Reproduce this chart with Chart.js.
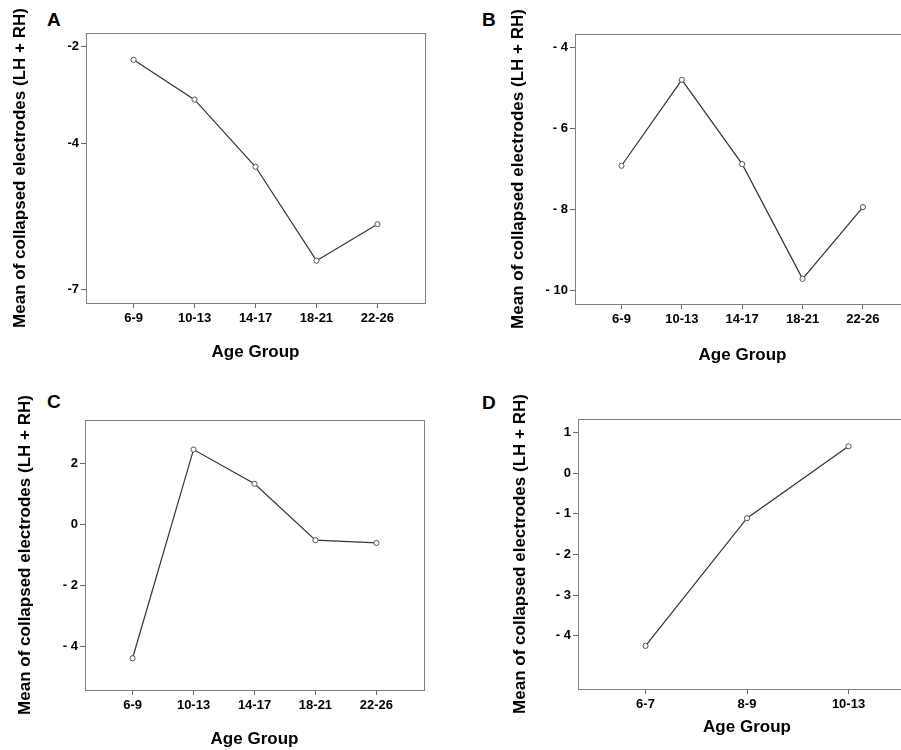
<!DOCTYPE html>
<html>
<head>
<meta charset="utf-8">
<script src="https://cdn.jsdelivr.net/npm/chart.js@4/dist/chart.umd.min.js"></script>
<style>
body{margin:0;width:901px;height:750px;overflow:hidden;background:#fff;position:relative;font-family:"Liberation Sans",Arial,sans-serif;}
canvas{position:absolute;}
.tag{position:absolute;font:bold 19px "Liberation Sans",Arial,sans-serif;line-height:1;color:#000;}
</style>
</head>
<body>
<div class="tag" style="left:47px;top:10px">A</div>
<div class="tag" style="left:482px;top:10px">B</div>
<div class="tag" style="left:47px;top:392px">C</div>
<div class="tag" style="left:482px;top:393px">D</div>
<canvas id="chartA" width="450" height="370" style="left:0;top:0"></canvas>
<canvas id="chartB" width="475" height="370" style="left:450px;top:0"></canvas>
<canvas id="chartC" width="450" height="380" style="left:0;top:370px"></canvas>
<canvas id="chartD" width="475" height="380" style="left:450px;top:370px"></canvas>
<script>
/* data */
const groupsABC = ["6-9", "10-13", "14-17", "18-21", "22-26"];
const groupsD = ["6-7", "8-9", "10-13"];

const meansA = [-2.27, -3.09, -4.47, -6.40, -5.65];
const meansB = [-6.92, -4.80, -6.88, -9.71, -7.94];
const meansC = [-4.39, 2.45, 1.33, -0.52, -0.61];
const meansD = [-4.25, -1.11, 0.66];

const yTicksA = [-2, -4, -7];
const yTickLabelsA = ["-2", "-4", "-7"];
const yTicksB = [-4, -6, -8, -10];
const yTickLabelsB = ["- 4", "- 6", "- 8", "- 10"];
const yTicksC = [2, 0, -2, -4];
const yTickLabelsC = ["2", "0", "- 2", "- 4"];
const yTicksD = [1, 0, -1, -2, -3, -4];
const yTickLabelsD = ["1", "0", "- 1", "- 2", "- 3", "- 4"];

const yTitle = "Mean of collapsed electrodes (LH + RH)";
const xTitle = "Age Group";

Chart.defaults.font.family = '"Liberation Sans", Arial, sans-serif';
Chart.defaults.color = "#000";
Chart.defaults.devicePixelRatio = 1;

/* box round the plot area */
const frame = {
  id: "frame",
  afterDraw(chart) {
    const a = chart.chartArea, c = chart.ctx;
    c.save();
    c.strokeStyle = "#808080";
    c.lineWidth = 1;
    c.strokeRect(Math.round(a.left) + 0.5, Math.round(a.top) + 0.5,
      Math.round(a.right - a.left), Math.round(a.bottom - a.top));
    c.restore();
  }
};

function makePanel(id, groups, means, yTicks, yLabels, lay) {
  const cv = document.getElementById(id);
  const W = cv.width, H = cv.height;
  new Chart(cv, {
    type: "line",
    data: {
      datasets: [{
        data: means.map((v, i) => ({x: i, y: v})),
        borderColor: "#333",
        borderWidth: 1.2,
        tension: 0,
        pointRadius: 2.6,
        pointBorderWidth: 1,
        pointBorderColor: "#555",
        pointBackgroundColor: "#fff"
      }]
    },
    options: {
      responsive: false,
      animation: false,
      layout: {padding: {left: 0, bottom: 0, top: lay.top, right: W - lay.right}},
      plugins: {legend: {display: false}, tooltip: {enabled: false}},
      scales: {
        x: {
          type: "linear",
          min: lay.xMin, max: lay.xMax,
          afterBuildTicks: s => { s.ticks = groups.map((g, i) => ({value: i})); },
          afterFit: s => { s.height = H - lay.bottom; },
          border: {display: false},
          grid: {drawOnChartArea: false, drawTicks: true, tickLength: 5, color: "#666", lineWidth: 1},
          ticks: {padding: 3, maxRotation: 0, font: {size: 13, weight: "bold"},
            callback: v => groups[v]},
          title: {display: true, text: xTitle, font: {size: 17, weight: "bold"},
            padding: {top: 0, bottom: lay.xPad}}
        },
        y: {
          min: lay.yMin, max: lay.yMax,
          afterBuildTicks: s => { s.ticks = yTicks.map(v => ({value: v})); },
          afterFit: s => { s.width = lay.left; },
          border: {display: false},
          grid: {drawOnChartArea: false, drawTicks: true, tickLength: 5, color: "#666", lineWidth: 1},
          ticks: {padding: 2, font: {size: 13, weight: "bold"},
            callback: v => yLabels[yTicks.indexOf(v)]},
          title: {display: true, text: yTitle, font: {size: 17, weight: "bold"},
            padding: {top: lay.yPad, bottom: 0}}
        }
      }
    },
    plugins: [frame]
  });
}

makePanel("chartA", groupsABC, meansA, yTicksA, yTickLabelsA,
  {left: 86, top: 33, right: 425, bottom: 303, xMin: -0.78, xMax: 4.78, yMin: -7.27, yMax: -1.72, yPad: 10, xPad: 7});
makePanel("chartB", groupsABC, meansB, yTicksB, yTickLabelsB,
  {left: 125, top: 34, right: 460, bottom: 304, xMin: -0.77, xMax: 4.78, yMin: -10.33, yMax: -3.67, yPad: 58, xPad: 4});
makePanel("chartC", groupsABC, meansC, yTicksC, yTickLabelsC,
  {left: 85, top: 50, right: 424, bottom: 320, xMin: -0.78, xMax: 4.78, yMin: -5.43, yMax: 3.42, yPad: 15, xPad: 0});
makePanel("chartD", groupsD, meansD, yTicksD, yTickLabelsD,
  {left: 128, top: 49, right: 466, bottom: 319, xMin: -0.665, xMax: 2.665, yMin: -5.31, yMax: 1.33, yPad: 60, xPad: 12});
</script>
</body>
</html>
